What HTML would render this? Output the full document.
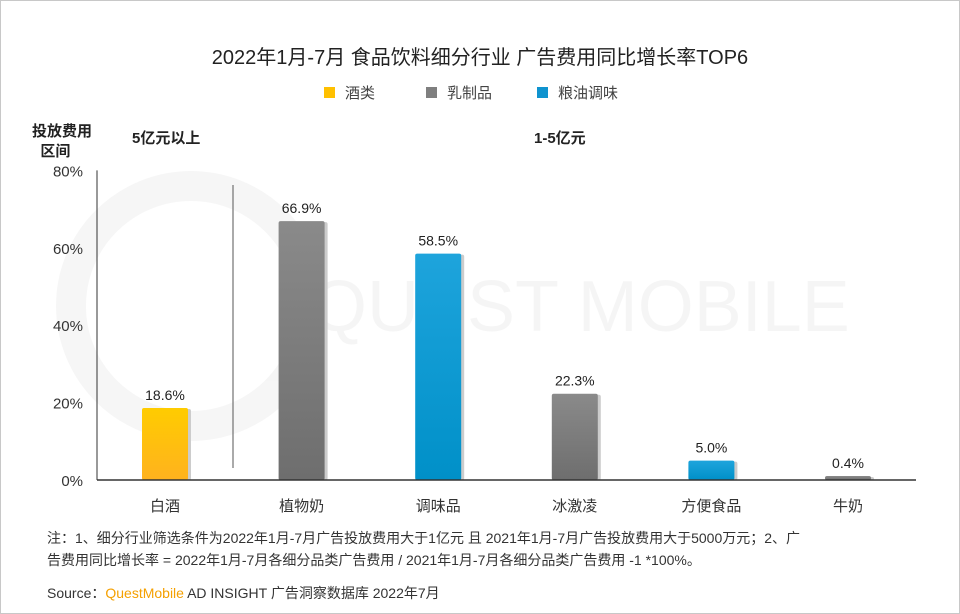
<!DOCTYPE html>
<html><head><meta charset="utf-8">
<style>
body{margin:0;background:#fff;}
#wrap{position:relative;width:958px;height:612px;border:1px solid #c8c8c8;overflow:hidden;font-family:"Liberation Sans","Noto Sans CJK SC",sans-serif;color:#222;}
.t{position:absolute;white-space:nowrap;}
</style></head>
<body>
<div id="wrap">
<div class="t" style="left:0;width:958px;text-align:center;top:40px;font-size:20px;">2022年1月-7月 食品饮料细分行业 广告费用同比增长率TOP6</div>
<div class="t" style="left:323px;top:81px;font-size:15px;color:#444;"><span style="display:inline-block;width:11px;height:11px;background:#ffc000;margin-right:10px;"></span>酒类</div>
<div class="t" style="left:425px;top:81px;font-size:15px;color:#444;"><span style="display:inline-block;width:11px;height:11px;background:#7f7f7f;margin-right:10px;"></span>乳制品</div>
<div class="t" style="left:536px;top:81px;font-size:15px;color:#444;"><span style="display:inline-block;width:11px;height:11px;background:#0f93cf;margin-right:10px;"></span>粮油调味</div>
<div class="t" style="left:31px;top:121px;font-size:15px;font-weight:bold;line-height:20px;">投放费用<br>&nbsp;&nbsp;区间</div>
<div class="t" style="left:131px;top:126px;font-size:15px;font-weight:bold;">5亿元以上</div>
<div class="t" style="left:533px;top:126px;font-size:15px;font-weight:bold;">1-5亿元</div>
<svg id="chart" width="958" height="612" style="position:absolute;left:0;top:0;">
<defs>
<linearGradient id="gy" x1="0" y1="0" x2="0" y2="1"><stop offset="0" stop-color="#ffcc00"/><stop offset="1" stop-color="#ffb21e"/></linearGradient>
<linearGradient id="gg" x1="0" y1="0" x2="0" y2="1"><stop offset="0" stop-color="#8a8a8a"/><stop offset="1" stop-color="#6e6e6e"/></linearGradient>
<linearGradient id="gb" x1="0" y1="0" x2="0" y2="1"><stop offset="0" stop-color="#1ea4dc"/><stop offset="1" stop-color="#0090c8"/></linearGradient>
</defs>
<g id="wm" opacity="0.035">
<circle cx="190" cy="305" r="120" fill="none" stroke="#000" stroke-width="30"/>
<text x="310" y="330" font-size="72" font-family="Liberation Sans" fill="#000">QUEST MOBILE</text>
</g>
</svg>
<div class="t" style="left:46px;top:526px;font-size:14px;line-height:22px;color:#333;">注：1、细分行业筛选条件为2022年1月-7月广告投放费用大于1亿元 且 2021年1月-7月广告投放费用大于5000万元；2、广<br>告费用同比增长率 = 2022年1月-7月各细分品类广告费用 / 2021年1月-7月各细分品类广告费用 -1 *100%。</div>
<div class="t" style="left:46px;top:582px;font-size:14px;color:#333;">Source：<span style="color:#f5a000;">QuestMobile</span> AD INSIGHT 广告洞察数据库 2022年7月</div>
</div>
<script>
const categories=["白酒","植物奶","调味品","冰激凌","方便食品","牛奶"];
const values=[18.6,66.9,58.5,22.3,5.0,0.4];
const groups=["wine","dairy","grain","dairy","grain","dairy"];
const ticks=[0,20,40,60,80];
const svg=document.getElementById('chart');
const NS='http://www.w3.org/2000/svg';
const y0=479,pxPer=3.87;
function y(v){return y0-v*pxPer;}
function x(i){return 164+i*136.6;}
const fills={wine:'url(#gy)',dairy:'url(#gg)',grain:'url(#gb)'};
function mk(tag,attrs){const e=document.createElementNS(NS,tag);for(const k in attrs)e.setAttribute(k,attrs[k]);svg.appendChild(e);return e;}
let e=mk('line',{x1:96,x2:96,y1:y(80),y2:y0,stroke:'#333','stroke-width':1});


e=mk('line',{x1:232,x2:232,y1:184,y2:467,stroke:'#555','stroke-width':1});


ticks.forEach(t=>{
 const tx=mk('text',{x:82,y:y(t)+6,'text-anchor':'end','font-size':15,'font-family':'Liberation Sans',fill:'#333'});
 tx.textContent=t+'%';
 
 
});
values.forEach((v,i)=>{
 const cx=x(i),w=46;
 const top=Math.min(y(v),y0-4);
 const sh=mk('rect',{x:cx-w/2+3,y:top+1,width:w,height:y0-top-1,fill:'#ccc',rx:2});
 
 
 const r=mk('rect',{x:cx-w/2,y:top,width:w,height:y0-top,fill:fills[groups[i]],rx:2});
 
 
 const lb=mk('text',{x:cx,y:top-8,'text-anchor':'middle','font-size':14,'font-family':'Liberation Sans',fill:'#222'});
 lb.textContent=v.toFixed(1)+'%';
 
 
 const cl=mk('text',{x:cx,y:510,'text-anchor':'middle','font-size':15,'font-family':'Liberation Sans, Noto Sans CJK SC, sans-serif',fill:'#333'});
 cl.textContent=categories[i];
 
 
});
e=mk('line',{x1:96,x2:915,y1:y0,y2:y0,stroke:'#333','stroke-width':1.5});


</script>
</body></html>
